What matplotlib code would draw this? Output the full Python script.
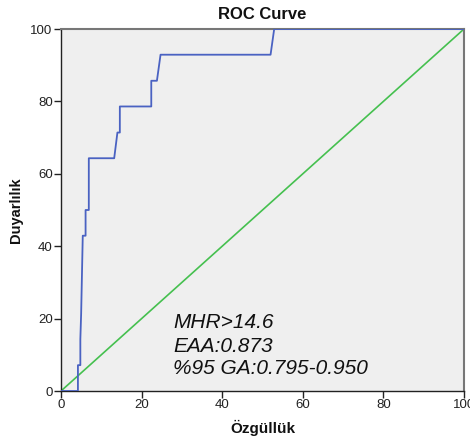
import matplotlib
matplotlib.use("Agg")
import matplotlib.pyplot as plt

# ROC curve data (x axis labelled "Özgüllük", y axis "Duyarlılık")
roc_x = [0, 4.2, 4.2, 4.8, 4.8, 5.0, 5.4, 6.1, 6.1, 6.9, 6.9, 13.2, 14.0, 14.6, 14.6,
         22.4, 22.4, 23.8, 24.7, 52.0, 52.9, 100]
roc_y = [0, 0, 7.14, 7.14, 14.3, 21.4, 42.9, 42.9, 50.0, 50.0, 64.3, 64.3, 71.4, 71.4, 78.6,
         78.6, 85.7, 85.7, 92.9, 92.9, 100, 100]
ref_x = [0, 100]
ref_y = [0, 100]
ticks = [0, 20, 40, 60, 80, 100]
annot_lines = ["MHR>14.6", "EAA:0.873", "%95 GA:0.795-0.950"]

plt.rcParams['font.family'] = ['Liberation Sans', 'DejaVu Sans']

fig = plt.figure(figsize=(4.70, 4.37), dpi=100)
ax = fig.add_axes([61/470, 1-391/437, 403/470, 362/437])
ax.set_facecolor('#efefef')

ax.plot(ref_x, ref_y, color='#45c04f', lw=1.2, zorder=2)
ax.plot(roc_x, roc_y, color='#4a62c2', lw=1.3, zorder=3)

ax.set_xlim(0, 100)
ax.set_ylim(0, 100)
ax.set_xticks(ticks)
ax.set_yticks(ticks)
ax.tick_params(direction='out', length=5, width=1, labelsize=9.5, colors='#222222', pad=1)
for s in ['left', 'bottom']:
    ax.spines[s].set_color('#222222')
    ax.spines[s].set_linewidth(1.0)
for s in ['top', 'right']:
    ax.spines[s].set_color('#777777')
    ax.spines[s].set_linewidth(1.5)

ax.set_title("ROC Curve", fontsize=12, fontweight='bold', pad=7, color='#111111')
ax.set_xlabel("Özgüllük", fontsize=11, fontweight='bold', labelpad=6, color='#111111')
ax.set_ylabel("Duyarlılık", fontsize=10.5, fontweight='bold', labelpad=5, color='#111111')

ys = [18.8, 12.4, 6.1]
for t, y in zip(annot_lines, ys):
    ax.text(27.8, y, t, fontsize=15, style='italic', va='center', ha='left', color='#111111')

fig.savefig("out.png", dpi=100)
